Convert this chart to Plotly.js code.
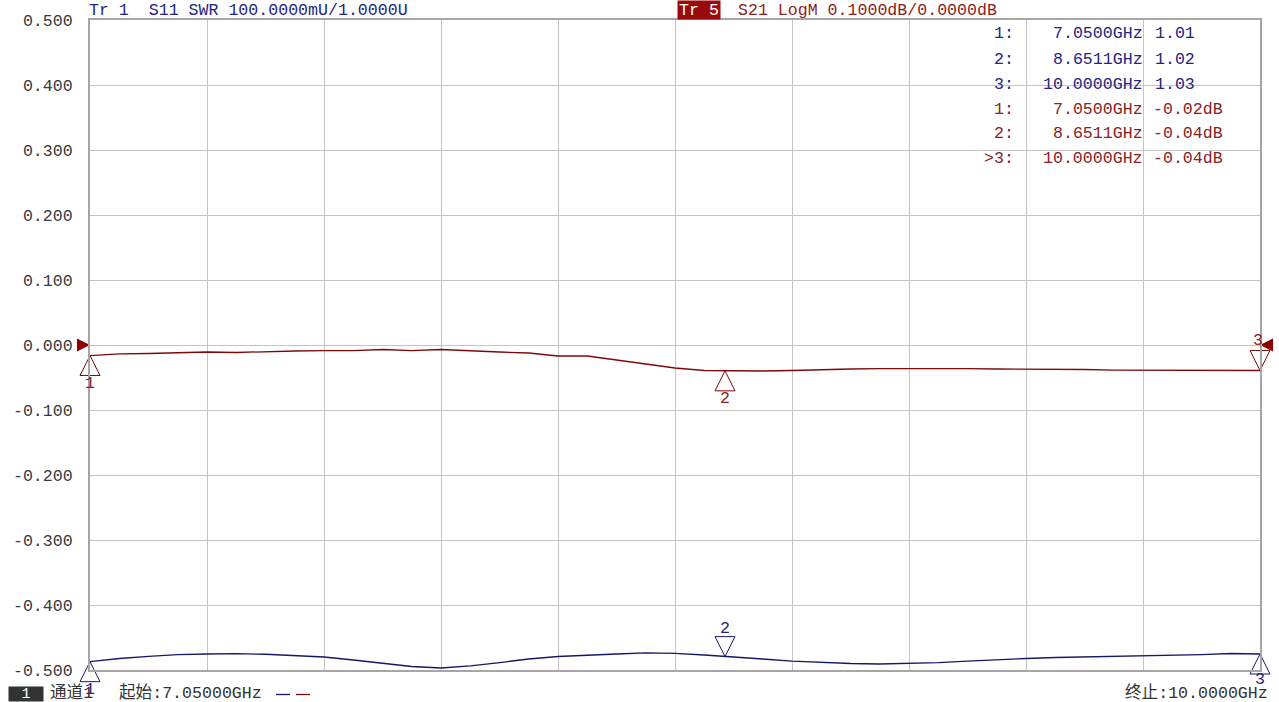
<!DOCTYPE html>
<html>
<head>
<meta charset="utf-8">
<script src="https://cdn.plot.ly/plotly-3.0.1.min.js"></script>
<style>html,body{margin:0;padding:0;background:#fff;}#chart{width:1279px;height:702px;}</style>
</head>
<body>
<div id="chart"></div>
<script>
// ---- data ----
const freqGHz = [7.050, 7.124, 7.198, 7.271, 7.345, 7.419, 7.493, 7.566, 7.640, 7.714,
                 7.788, 7.861, 7.935, 8.009, 8.083, 8.156, 8.230, 8.304, 8.378, 8.451,
                 8.525, 8.599, 8.673, 8.746, 8.820, 8.894, 8.968, 9.041, 9.115, 9.189,
                 9.263, 9.336, 9.410, 9.484, 9.558, 9.631, 9.705, 9.779, 9.853, 9.926, 10.000];
const s21dB = [-0.0162, -0.0138, -0.0131, -0.0123, -0.0108, -0.0115, -0.0100, -0.0092, -0.0085, -0.0085,
               -0.0069, -0.0085, -0.0069, -0.0092, -0.0108, -0.0123, -0.0169, -0.0169, -0.0230, -0.0292,
               -0.0354, -0.0392, -0.0400, -0.0400, -0.0392, -0.0377, -0.0369, -0.0362, -0.0362, -0.0354,
               -0.0362, -0.0369, -0.0369, -0.0377, -0.0377, -0.0385, -0.0385, -0.0392, -0.0385, -0.0392, -0.0392];
const s11SWR = [1.0128, 1.0177, 1.0211, 1.0235, 1.0246, 1.0251, 1.0242, 1.0223, 1.0200, 1.0154,
                1.0108, 1.0054, 1.0031, 1.0062, 1.0115, 1.0169, 1.0208, 1.0231, 1.0246, 1.0262,
                1.0257, 1.0231, 1.0195, 1.0169, 1.0138, 1.0118, 1.0100, 1.0092, 1.0100, 1.0115,
                1.0138, 1.0162, 1.0177, 1.0192, 1.0200, 1.0208, 1.0223, 1.0231, 1.0238, 1.0254, 1.0246];
const markerFreqGHz = [7.05, 8.6511, 10.0];
const markerNames = ["1", "2", "3"];
const swrReadout = ["1.01", "1.02", "1.03"];
const s21Readout = ["-0.02dB", "-0.04dB", "-0.04dB"];
const yTickVals = [0.5, 0.4, 0.3, 0.2, 0.1, 0, -0.1, -0.2, -0.3, -0.4, -0.5];
const yTickText = ["0.500", "0.400", "0.300", "0.200", "0.100", "0.000", "-0.100", "-0.200", "-0.300", "-0.400", "-0.500"];
const refLevel = 0;
const startText = "起始:7.05000GHz";
const stopText = "终止:10.0000GHz";
const tr1Header = "Tr 1\u00a0\u00a0S11 SWR 100.0000mU/1.0000U";
const tr5Label = "Tr 5";
const tr5Header = "S21 LogM 0.1000dB/0.0000dB";

// ---- styling ----
const FONT = "Liberation Mono, Noto Sans CJK SC, monospace";
const FS = 16.6;
const RED = "#7d0a0a";
const RED_TXT = "#8b2222";
const BLUE = "#17176a";
const BLUE_TXT = "#25257f";
const GRID = "#c4c4c4";

function interpAt(xs, ys, f) {
  for (let i = 0; i < xs.length - 1; i++) {
    if (f >= xs[i] && f <= xs[i + 1]) {
      const t = (f - xs[i]) / (xs[i + 1] - xs[i]);
      return ys[i] + t * (ys[i + 1] - ys[i]);
    }
  }
  return ys[ys.length - 1];
}
const s21Mk = markerFreqGHz.map(f => interpAt(freqGHz, s21dB, f));
const swrMk = markerFreqGHz.map(f => interpAt(freqGHz, s11SWR, f));

const traces = [
  {x: freqGHz, y: s21dB, type: "scatter", mode: "lines", yaxis: "y",
   line: {color: RED, width: 1.3}, hoverinfo: "skip"},
  {x: freqGHz, y: s11SWR, type: "scatter", mode: "lines", yaxis: "y2",
   line: {color: BLUE, width: 1.3}, hoverinfo: "skip"},
  {x: markerFreqGHz, y: s21Mk, type: "scatter", mode: "markers", yaxis: "y", cliponaxis: false,
   marker: {symbol: ["arrow-up-open", "arrow-up-open", "arrow-down-open"], size: 20,
            color: RED, line: {color: RED, width: 1}}, hoverinfo: "skip"},
  {x: markerFreqGHz, y: swrMk, type: "scatter", mode: "markers", yaxis: "y2", cliponaxis: false,
   marker: {symbol: ["arrow-up-open", "arrow-down-open", "arrow-up-open"], size: 20,
            color: BLUE, line: {color: BLUE, width: 1}}, hoverinfo: "skip"},
  {x: [freqGHz[0], freqGHz[freqGHz.length - 1]], y: [refLevel, refLevel], type: "scatter", mode: "markers",
   yaxis: "y", cliponaxis: false,
   marker: {symbol: ["arrow-right", "arrow-left"], size: 13, color: "#8e0000", line: {width: 0}}, hoverinfo: "skip"}
];

function px2x(px) { return (px - 90) / 1170; }
function px2y(py) { return (670 - py) / 650; }

const ann = [];
function txt(text, x, y, xanchor, color, extra) {
  ann.push(Object.assign({text: text, xref: "paper", yref: "paper", x: px2x(x), y: px2y(y),
    xanchor: xanchor, yanchor: "middle", showarrow: false, borderpad: 0,
    font: {family: FONT, size: FS, color: color}}, extra || {}));
}
// headers
txt(tr1Header, 88, 10, "left", BLUE_TXT);
txt(tr5Label, 677, 10, "left", "#ffffff", {bgcolor: "#9a0a0a", width: 42, height: 18});
txt(tr5Header, 737, 10, "left", RED_TXT);
// marker table
const rowsY = [34, 59, 84, 109, 133, 158];
for (let i = 0; i < 3; i++) {
  txt(markerNames[i] + ":", 1015, rowsY[i], "right", BLUE_TXT);
  txt(markerFreqGHz[i].toFixed(4) + "GHz", 1144, rowsY[i], "right", BLUE_TXT);
  txt(swrReadout[i], 1154, rowsY[i], "left", BLUE_TXT);
}
for (let i = 0; i < 3; i++) {
  txt((i === 2 ? ">" : "") + markerNames[i] + ":", 1015, rowsY[i + 3], "right", RED_TXT);
  txt(markerFreqGHz[i].toFixed(4) + "GHz", 1144, rowsY[i + 3], "right", RED_TXT);
  txt(s21Readout[i], 1152, rowsY[i + 3], "left", RED_TXT);
}
// footer
txt("1", 8, 693.5, "left", "#ffffff", {bgcolor: "#333333", width: 34, height: 14, font: {family: FONT, size: 15, color: "#ffffff"}});
txt("通道1", 49, 692.5, "left", "#333333");
txt(startText, 118, 692.5, "left", "#333333");
txt(stopText, 1269, 692.5, "right", "#333333");

// marker number labels
const s21Shift = [-28, -28, 30];
const swrShift = [-28, 28, -25];
for (let i = 0; i < 3; i++) {
  ann.push({text: markerNames[i], xref: "x", yref: "y", x: markerFreqGHz[i], y: s21Mk[i],
    yshift: s21Shift[i], xshift: i === 2 ? -2 : 0, showarrow: false, xanchor: "center", yanchor: "middle",
    font: {family: FONT, size: FS, color: RED_TXT}});
  ann.push({text: markerNames[i], xref: "x", yref: "y2", x: markerFreqGHz[i], y: swrMk[i],
    yshift: swrShift[i], showarrow: false, xanchor: "center", yanchor: "middle",
    font: {family: FONT, size: FS, color: BLUE_TXT}});
}

const shapes = [
  {type: "line", xref: "paper", yref: "paper", x0: px2x(276), x1: px2x(290), y0: px2y(694.5), y1: px2y(694.5),
   line: {color: BLUE, width: 1.3}},
  {type: "line", xref: "paper", yref: "paper", x0: px2x(296), x1: px2x(310), y0: px2y(694.5), y1: px2y(694.5),
   line: {color: RED, width: 1.3}}
];

const layout = {
  width: 1279, height: 702,
  margin: {l: 90, r: 19, t: 20, b: 32, pad: 0},
  paper_bgcolor: "#ffffff", plot_bgcolor: "#ffffff",
  showlegend: false,
  font: {family: FONT, size: FS, color: "#333333"},
  xaxis: {range: [freqGHz[0], freqGHz[freqGHz.length - 1]], tickmode: "linear", tick0: freqGHz[0], dtick: 0.295,
          showgrid: true, gridcolor: GRID, gridwidth: 1, showticklabels: false, ticks: "",
          zeroline: false, showline: true, linecolor: "#a6a6a6", linewidth: 2, mirror: true},
  yaxis: {range: [-0.5, 0.5], tickmode: "array", tickvals: yTickVals, ticktext: yTickText,
          showgrid: true, gridcolor: GRID, gridwidth: 1, zeroline: false, ticks: "",
          showline: true, linecolor: "#a6a6a6", linewidth: 2, mirror: true,
          ticklabelstandoff: 12, tickfont: {family: FONT, size: FS, color: "#3a3a3a"}},
  yaxis2: {overlaying: "y", range: [1.0, 2.0], visible: false, showgrid: false, zeroline: false},
  annotations: ann,
  shapes: shapes
};

Plotly.newPlot("chart", traces, layout, {staticPlot: true, displayModeBar: false});
</script>
</body>
</html>
